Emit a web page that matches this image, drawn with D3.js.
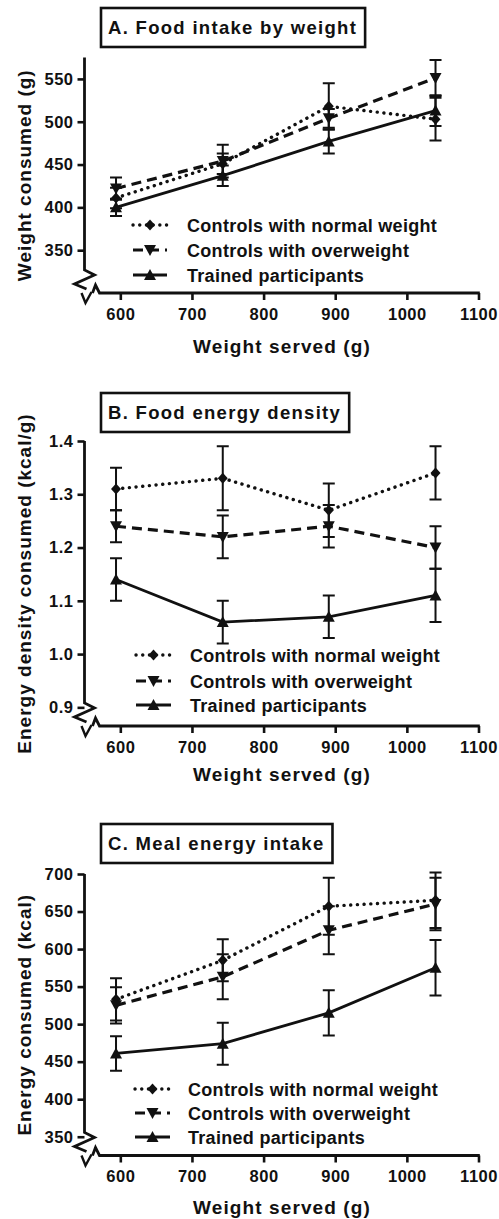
<!DOCTYPE html>
<html><head><meta charset="utf-8">
<script src="https://cdn.jsdelivr.net/npm/d3@7"></script>
<style>
html,body{margin:0;padding:0;background:#fff;}
text{font-family:"Liberation Sans",Arial,sans-serif;font-weight:bold;fill:#111;}
</style></head>
<body><svg id="chart" width="499" height="1219"></svg>
<script>
// ---------- data ----------
const weightServed = [594, 743, 891, 1040];
const xTicks = [600, 700, 800, 900, 1000, 1100];
const seriesNames = ["Controls with normal weight", "Controls with overweight", "Trained participants"];

// A. Food intake by weight (g)
const normalA = [411, 451, 518, 503];
const normalAErr = [12, 12, 27, 25];
const overA = [422, 454, 504, 551];
const overAErr = [13, 19, 11, 21];
const trainedA = [400, 437, 477, 513];
const trainedAErr = [10, 12, 14, 18];
const yTicksA = [350, 400, 450, 500, 550];

// B. Food energy density (kcal/g)
const normalB = [1.31, 1.33, 1.27, 1.34];
const normalBErr = [0.04, 0.06, 0.05, 0.05];
const overB = [1.24, 1.22, 1.24, 1.20];
const overBErr = [0.03, 0.04, 0.04, 0.04];
const trainedB = [1.14, 1.06, 1.07, 1.11];
const trainedBErr = [0.04, 0.04, 0.04, 0.05];
const yTicksB = [0.9, 1.0, 1.1, 1.2, 1.3, 1.4];

// C. Meal energy intake (kcal)
const normalC = [533, 585, 657, 665];
const normalCErr = [28, 28, 38, 37];
const overC = [525, 563, 625, 660];
const overCErr = [24, 30, 32, 35];
const trainedC = [461, 474, 515, 575];
const trainedCErr = [23, 28, 30, 37];
const yTicksC = [350, 400, 450, 500, 550, 600, 650, 700];

// ---------- layout ----------
const svg = d3.select("#chart");
const ink = "#111";
const styles = [
  {dash: "0.1,6.6", cap: "round", width: 3.4, marker: "diamond"},
  {dash: "10,6", cap: "butt", width: 3.2, marker: "down"},
  {dash: null, cap: "butt", width: 2.8, marker: "up"}
];

const panels = [
  {title: "A. Food intake by weight", ylabel: "Weight consumed (g)", boxTop: 8, boxH: 39,
   yDomain: [300, 575], yRange: [293, 57.5], yTicks: yTicksA, fmt: d3.format("d"),
   series: [[normalA, normalAErr], [overA, overAErr], [trainedA, trainedAErr]],
   legendY: [225, 250, 275], legendText: 187, legendSym: [133, 167], xTitleY: 353},
  {title: "B. Food energy density", ylabel: "Energy density consumed (kcal/g)", boxTop: 393, boxH: 39,
   yDomain: [0.865, 1.4], yRange: [726, 441], yTicks: yTicksB, fmt: d3.format(".1f"),
   series: [[normalB, normalBErr], [overB, overBErr], [trainedB, trainedBErr]],
   legendY: [655, 681, 705], legendText: 190, legendSym: [136, 171], xTitleY: 781},
  {title: "C. Meal energy intake", ylabel: "Energy consumed (kcal)", boxTop: 824, boxH: 39,
   yDomain: [325, 700], yRange: [1155.5, 874], yTicks: yTicksC, fmt: d3.format("d"),
   series: [[normalC, normalCErr], [overC, overCErr], [trainedC, trainedCErr]],
   legendY: [1089, 1113, 1137], legendText: 188, legendSym: [135, 170], xTitleY: 1214}
];

function markerPath(type, cx, cy) {
  if (type === "diamond") return `M${cx},${cy-5.5}L${cx+5},${cy}L${cx},${cy+5.5}L${cx-5},${cy}Z`;
  if (type === "down") return `M${cx-6},${cy-5}L${cx+6},${cy-5}L${cx},${cy+6}Z`;
  return `M${cx-6},${cy+5}L${cx+6},${cy+5}L${cx},${cy-6}Z`;
}

function styleTicks(sel) {
  sel.selectAll(".tick line").attr("stroke", ink).attr("stroke-width", 2.6);
  sel.selectAll(".tick text").attr("font-size", 16.5).attr("letter-spacing", 0.5)
    .style("font-family", '"Liberation Sans",Arial,sans-serif').style("font-weight", "bold").attr("fill", ink);
}

panels.forEach(p => {
  const g = svg.append("g");
  const x = d3.scaleLinear().domain([550, 1100]).range([84.5, 478.5]);
  const y = d3.scaleLinear().domain(p.yDomain).range(p.yRange);
  const ox = x(550), oy = y(p.yDomain[0]);

  // title box
  const tt = g.append("text").attr("x", 108).attr("y", p.boxTop + p.boxH/2 + 6.5)
    .attr("font-size", 18.5).attr("letter-spacing", 1.3).text(p.title);
  const tw = tt.node().getComputedTextLength();
  g.insert("rect", "text").attr("x", 101).attr("y", p.boxTop).attr("width", tw + 15)
    .attr("height", p.boxH).attr("fill", "#fff").attr("stroke", ink).attr("stroke-width", 2.6);

  // x axis
  const xa = g.append("g").attr("transform", `translate(0,${oy})`)
    .call(d3.axisBottom(x).tickValues(xTicks).tickFormat(d3.format("d")).tickSize(7).tickPadding(8).tickSizeOuter(0));
  xa.select(".domain").remove();
  styleTicks(xa);
  g.append("path").attr("d", `M${ox+8},${oy}L${ox+11},${oy-8}L${ox+15},${oy}L${x(1100)+1.3},${oy}`)
    .attr("fill", "none").attr("stroke", ink).attr("stroke-width", 2.8).attr("stroke-linejoin", "miter");

  // y axis
  const ya = g.append("g").attr("transform", `translate(${ox},0)`)
    .call(d3.axisLeft(y).tickValues(p.yTicks).tickFormat(p.fmt).tickSize(7).tickPadding(4).tickSizeOuter(0));
  ya.select(".domain").remove();
  styleTicks(ya);
  g.append("path").attr("d", `M${ox},${p.yRange[1]}L${ox},${oy-23}L${ox+10},${oy-18}L${ox-10},${oy-9}L${ox+2},${oy-4}`)
    .attr("fill", "none").attr("stroke", ink).attr("stroke-width", 2.8);
  g.append("path").attr("d", `M${ox-3},${oy}L${ox+1},${oy+10}L${ox+7},${oy-1}`)
    .attr("fill", "none").attr("stroke", ink).attr("stroke-width", 2.4);

  // axis titles
  g.append("text").attr("x", 282).attr("y", p.xTitleY).attr("text-anchor", "middle")
    .attr("font-size", 19).attr("letter-spacing", 1.1).text("Weight served (g)");
  g.append("text").attr("transform", `translate(31,${(p.yRange[1] + oy)/2}) rotate(-90)`)
    .attr("text-anchor", "middle").attr("font-size", 19).attr("letter-spacing", 1.0).text(p.ylabel);

  // series
  p.series.forEach(([vals, errs], si) => {
    const st = styles[si];
    const pts = weightServed.map((w, i) => ({x: w, y: vals[i], e: errs[i]}));
    const line = d3.line().x(d => x(d.x)).y(d => y(d.y));
    g.append("path").attr("d", line(pts)).attr("fill", "none").attr("stroke", ink)
      .attr("stroke-width", st.width).attr("stroke-dasharray", st.dash).attr("stroke-linecap", st.cap);
    pts.forEach(d => {
      const cx = x(d.x);
      g.append("path").attr("d", `M${cx},${y(d.y - d.e)}L${cx},${y(d.y + d.e)}M${cx-6},${y(d.y + d.e)}L${cx+6},${y(d.y + d.e)}M${cx-6},${y(d.y - d.e)}L${cx+6},${y(d.y - d.e)}`)
        .attr("fill", "none").attr("stroke", ink).attr("stroke-width", 2);
      g.append("path").attr("d", markerPath(st.marker, cx, y(d.y))).attr("fill", ink);
    });

    // legend
    const ly = p.legendY[si];
    const [l0, l1] = p.legendSym;
    g.append("path").attr("d", `M${l0},${ly}L${l1},${ly}`).attr("stroke", ink)
      .attr("stroke-width", st.width).attr("stroke-dasharray", st.dash).attr("stroke-linecap", st.cap);
    g.append("path").attr("d", markerPath(st.marker, (l0 + l1)/2, ly)).attr("fill", ink);
    g.append("text").attr("x", p.legendText).attr("y", ly + 6.5).attr("font-size", 18)
      .attr("letter-spacing", 0.3).text(seriesNames[si]);
  });
});
</script></body></html>
